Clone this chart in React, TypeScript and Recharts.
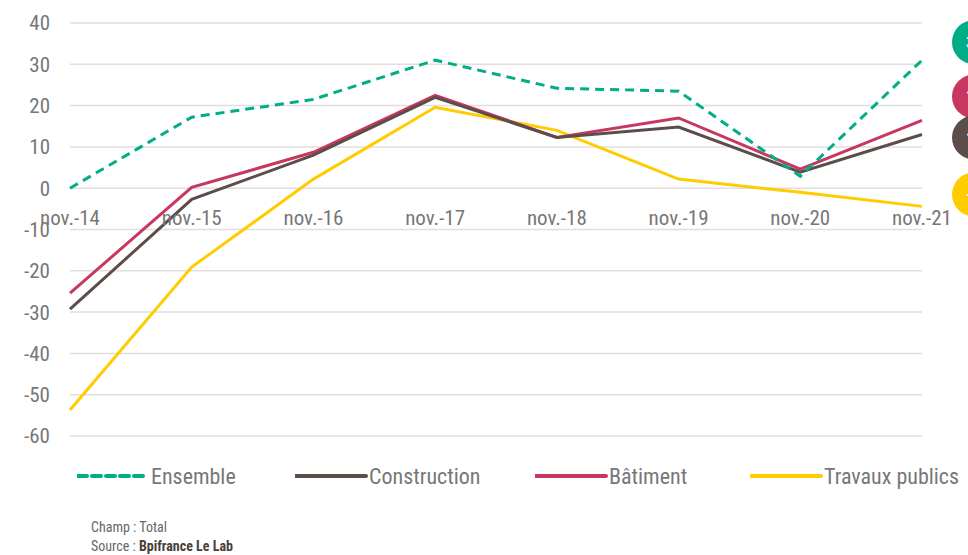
import { LineChart, Line, XAxis, YAxis, CartesianGrid, LabelList } from 'recharts';

const categories = ['nov.-14', 'nov.-15', 'nov.-16', 'nov.-17', 'nov.-18', 'nov.-19', 'nov.-20', 'nov.-21'];
const ensemble = [0, 17.2, 21.5, 31, 24.2, 23.5, 2.9, 31];
const construction = [-29.3, -2.7, 8, 22, 12.3, 14.8, 3.9, 13];
const batiment = [-25.4, 0.2, 8.7, 22.5, 12.3, 17, 4.6, 16.4];
const travauxPublics = [-53.7, -19.1, 2.2, 19.6, 14, 2.2, -1, -4.4];
const yTicks = [40, 30, 20, 10, 0, -10, -20, -30, -40, -50, -60];

const data = categories.map((name, i) => ({
  name,
  ensemble: ensemble[i],
  construction: construction[i],
  batiment: batiment[i],
  travaux: travauxPublics[i],
}));

const FONT = "'Roboto Condensed', 'Liberation Sans Narrow', 'DejaVu Sans Condensed', 'Open Sans Condensed', sans-serif";
const TOP = 23;
const PLOT_H = 413;
const Y_MAX = 40;
const Y_MIN = -60;
const zeroY = TOP + (PLOT_H * Y_MAX) / (Y_MAX - Y_MIN);

const series = [
  { key: 'travaux', label: 'Travaux publics', color: '#ffcc00', dash: undefined, bubbleDy: -12 },
  { key: 'batiment', label: 'Bâtiment', color: '#c7375f', dash: undefined, bubbleDy: -24 },
  { key: 'construction', label: 'Construction', color: '#5b4e4a', dash: undefined, bubbleDy: 3 },
  { key: 'ensemble', label: 'Ensemble', color: '#00ad87', dash: '9 6', bubbleDy: -18 },
];
const legendOrder = ['ensemble', 'construction', 'batiment', 'travaux'];

const XTick = (props: any) => {
  const { x, payload } = props;
  return (
    <text x={x} y={zeroY + 37} textAnchor="middle" fill="#777" fontSize={21} fontFamily={FONT}>
      {payload.value}
    </text>
  );
};

const bubble = (color: string, dy: number) => (props: any) => {
  const { x, y, index, value } = props;
  if (index !== categories.length - 1) return null;
  return (
    <g>
      <circle cx={x + 52} cy={y + dy} r={22} fill={color} />
      <text x={x + 44} y={y + dy + 6} fill="#fff" fontSize={16} fontWeight="bold" fontFamily={FONT}>
        {Math.round(value)}
      </text>
    </g>
  );
};

export default function App() {
  return (
    <div style={{ position: 'absolute', left: 0, top: 0, width: 968, height: 555, overflow: 'hidden', background: '#fff' }}>
      <LineChart width={968} height={460} data={data} margin={{ top: TOP, right: 46, bottom: 23, left: 0 }}>
        <CartesianGrid vertical={false} stroke="#e2dede" strokeWidth={1.5} />
        <XAxis
          dataKey="name"
          height={1}
          axisLine={false}
          tickLine={false}
          tick={<XTick />}
          interval={0}
          padding={{ left: 0, right: 0 }}
        />
        <YAxis
          width={70}
          domain={[Y_MIN, Y_MAX]}
          ticks={yTicks}
          axisLine={false}
          tickLine={false}
          tickSize={0}
          tickMargin={20}
          tick={{ fill: '#777', fontSize: 21, fontFamily: FONT }}
          interval={0}
        />
        {series.map((s) => (
          <Line
            key={s.key}
            dataKey={s.key}
            stroke={s.color}
            strokeWidth={3}
            strokeDasharray={s.dash}
            dot={false}
            type="linear"
            isAnimationActive={false}
          >
            <LabelList dataKey={s.key} content={bubble(s.color, s.bubbleDy)} />
          </Line>
        ))}
      </LineChart>
      <div style={{ position: 'absolute', top: 462, left: 0, width: 968, height: 30, fontFamily: FONT, fontSize: 22, color: '#777' }}>
        {legendOrder.map((k, i) => {
          const s = series.find((d) => d.key === k)!;
          const lefts = [77, 295, 535, 750];
          return (
            <div key={k} style={{ position: 'absolute', left: lefts[i], top: 0, display: 'flex', alignItems: 'center', whiteSpace: 'nowrap' }}>
              <svg width={74} height={28}>
                <line x1={1} y1={14} x2={71} y2={14} stroke={s.color} strokeWidth={4} strokeDasharray={s.dash ? '9 5' : undefined} strokeLinecap="round" />
              </svg>
              <span>{s.label}</span>
            </div>
          );
        })}
      </div>
      <div style={{ position: 'absolute', top: 518, left: 91, fontFamily: FONT, fontSize: 14, color: '#666', lineHeight: '19px' }}>
        <div>Champ : Total</div>
        <div>
          Source : <span style={{ color: '#4a3f3c', fontWeight: 'bold' }}>Bpifrance Le Lab</span>
        </div>
      </div>
    </div>
  );
}
